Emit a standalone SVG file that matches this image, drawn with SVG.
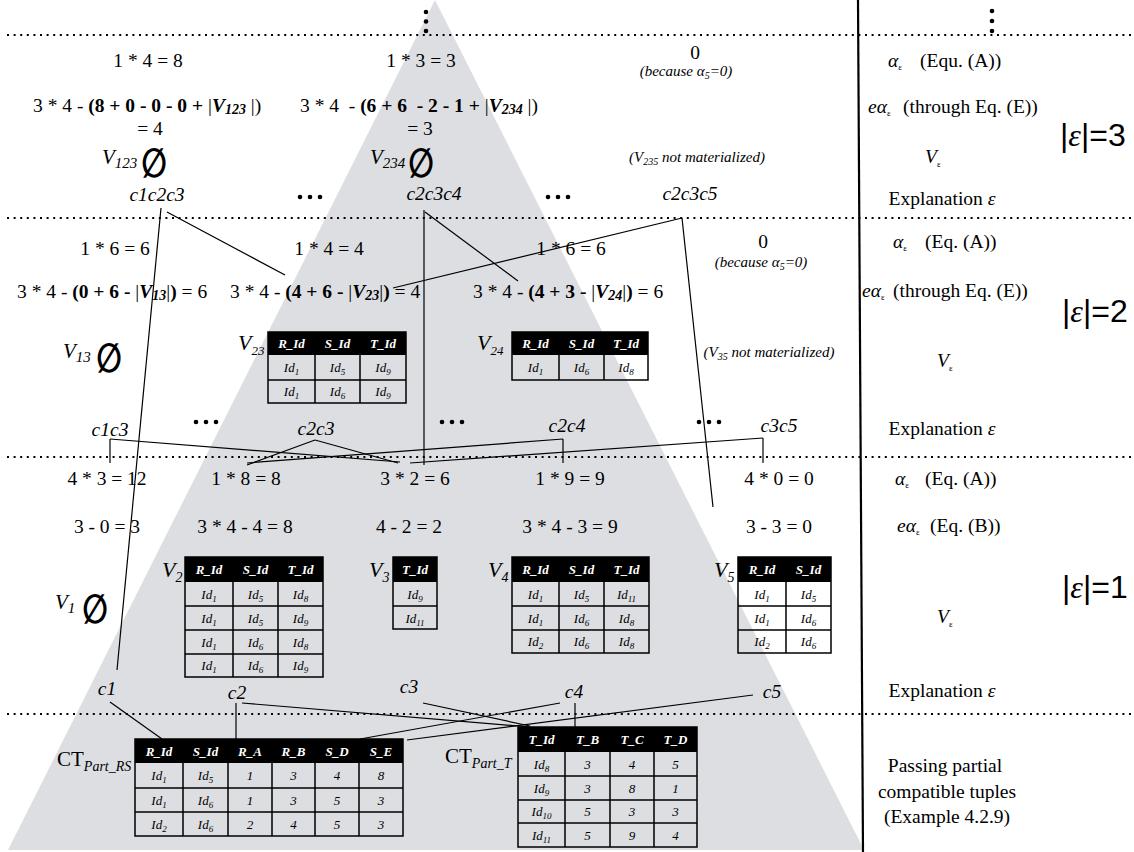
<svg xmlns="http://www.w3.org/2000/svg" width="1134" height="852" viewBox="0 0 1134 852">
<style>
text{font-family:"Liberation Serif","Times New Roman",serif;fill:#000}
.t{font-size:19.5px;white-space:pre}
.c{text-anchor:middle}
.i{font-style:italic}
.b{font-weight:bold}
.bi{font-weight:bold;font-style:italic}
.note{font-size:15px;font-style:italic}
.vl{font-size:21px;font-style:italic}
.vt{font-size:22px;font-style:italic}
.es{font-family:"DejaVu Sans",sans-serif;font-size:30px;font-weight:bold;text-anchor:middle}
.big{font-family:"Liberation Sans",Arial,sans-serif;font-size:32px}
.th{font-size:13px;font-weight:bold;font-style:italic;fill:#fff;text-anchor:middle}
.td{font-size:13px;font-style:italic;text-anchor:middle}
.s{font-size:9px}
.hd{fill:#000}
.gr{fill:none;stroke:#000;stroke-width:1.5}
.dot{stroke:#000;stroke-width:2.2;stroke-dasharray:2 4.6}
.ln{stroke:#000;stroke-width:1.2;fill:none}
.el{fill:#000}
</style>

<g id="background">
<polygon points="435,0 8,850 864,850" fill="#dddee2"/>
</g>

<g id="separators">
<line class="dot" x1="7" y1="35" x2="1134" y2="35"/>
<line class="dot" x1="7" y1="218" x2="1134" y2="218"/>
<line class="dot" x1="7" y1="457" x2="1134" y2="457"/>
<line class="dot" x1="7" y1="714" x2="1134" y2="714"/>
<line x1="858" y1="0" x2="863" y2="852" stroke="#000" stroke-width="2.2"/>
<circle class="el" cx="426" cy="12" r="2.3"/><circle class="el" cx="426" cy="21.5" r="2.3"/><circle class="el" cx="426" cy="31" r="2.3"/>
<circle class="el" cx="992" cy="11" r="2.3"/><circle class="el" cx="992" cy="21" r="2.3"/><circle class="el" cx="992" cy="31" r="2.3"/>
</g>

<g id="connectors">
<line class="ln" x1="161" y1="208" x2="117" y2="670"/>
<line class="ln" x1="167" y1="212" x2="285" y2="275"/>
<line class="ln" x1="424" y1="210" x2="424" y2="465"/>
<line class="ln" x1="425" y1="212" x2="518" y2="281"/>
<line class="ln" x1="682" y1="218" x2="393" y2="288"/>
<line class="ln" x1="682" y1="218" x2="713" y2="507"/>
<line class="ln" x1="110" y1="439" x2="110" y2="463"/>
<line class="ln" x1="110" y1="439" x2="400" y2="462"/>
<line class="ln" x1="315" y1="440" x2="247" y2="465"/>
<line class="ln" x1="315" y1="440" x2="398" y2="463"/>
<line class="ln" x1="563" y1="439" x2="563" y2="463"/>
<line class="ln" x1="563" y1="439" x2="247" y2="463"/>
<line class="ln" x1="763" y1="438" x2="763" y2="463"/>
<line class="ln" x1="763" y1="438" x2="410" y2="463"/>
<line class="ln" x1="110" y1="702" x2="162" y2="739"/>
<line class="ln" x1="236" y1="703" x2="236" y2="739"/>
<line class="ln" x1="242" y1="703" x2="530" y2="727"/>
<line class="ln" x1="423" y1="703" x2="530" y2="726"/>
<line class="ln" x1="575" y1="703" x2="575" y2="727"/>
<line class="ln" x1="560" y1="703" x2="360" y2="739"/>
<line class="ln" x1="753" y1="695" x2="407" y2="740"/>
</g>

<g id="level3">
<text class="t c" x="148" y="67">1 * 4 = 8</text>
<text class="t c" x="421" y="67">1 * 3 = 3</text>
<text class="t c" x="695" y="59">0</text>
<text class="note c" x="686" y="76">(because α<tspan font-size="10" dy="3">5</tspan><tspan dy="-3">=0)</tspan></text>
<text class="t" x="33" y="112">3 * 4 - <tspan class="b">(8 + 0 - 0 - 0 + </tspan>|<tspan class="bi">V</tspan><tspan class="bi" font-size="14" dy="2">123</tspan><tspan dy="-2"> |)</tspan></text>
<text class="t" x="300" y="112">3 * 4  - <tspan class="b">(6 + 6  - 2 - 1 + </tspan>|<tspan class="bi">V</tspan><tspan class="bi" font-size="14" dy="2">234</tspan><tspan dy="-2"> |)</tspan></text>
<text class="t c" x="150" y="135">= 4</text>
<text class="t c" x="420" y="135">= 3</text>
<text class="vl" x="102" y="164">V<tspan font-size="15" dy="4">123</tspan></text>
<text class="es" transform="translate(154,177) scale(1,1.35)">∅</text>
<text class="vl" x="370" y="164">V<tspan font-size="15" dy="4">234</tspan></text>
<text class="es" transform="translate(421,177) scale(1,1.35)">∅</text>
<text class="note c" x="697" y="162">(V<tspan font-size="10" dy="3">235</tspan><tspan dy="-3"> not materialized)</tspan></text>
<text class="t c i" x="157" y="201">c1c2c3</text>
<text class="t c i" x="434" y="200">c2c3c4</text>
<text class="t c i" x="690" y="200">c2c3c5</text>
<circle class="el" cx="300" cy="197" r="2.3"/><circle class="el" cx="310" cy="197" r="2.3"/><circle class="el" cx="320" cy="197" r="2.3"/>
<circle class="el" cx="548" cy="197" r="2.3"/><circle class="el" cx="558" cy="197" r="2.3"/><circle class="el" cx="568" cy="197" r="2.3"/>
</g>

<g id="legend3">
<text class="t" x="888" y="67"><tspan class="i">α</tspan><tspan font-size="9" dy="3">ε</tspan></text>
<text class="t" x="920" y="67">(Equ. (A))</text>
<text class="t" x="868" y="113"><tspan class="i">eα</tspan><tspan font-size="9" dy="3">ε</tspan></text>
<text class="t" x="903" y="113">(through Eq. (E))</text>
<text class="big" x="1060" y="146">|<tspan font-family="Liberation Serif" font-style="italic">ε</tspan>|=3</text>
<text class="t" x="925" y="163"><tspan class="i">V</tspan><tspan font-size="9" dy="4">ε</tspan></text>
<text class="t c" x="942" y="205">Explanation <tspan class="i">ε</tspan></text>
</g>

<g id="level2">
<text class="t c" x="115" y="255">1 * 6 = 6</text>
<text class="t c" x="329" y="255">1 * 4 = 4</text>
<text class="t c" x="571" y="255">1 * 6 = 6</text>
<text class="t c" x="763" y="248">0</text>
<text class="note c" x="761" y="267">(because α<tspan font-size="10" dy="3">5</tspan><tspan dy="-3">=0)</tspan></text>
<text class="t" x="17" y="298">3 * 4 - <tspan class="b">(0 + 6 - </tspan>|<tspan class="bi">V</tspan><tspan class="bi" font-size="14" dy="2">13</tspan><tspan dy="-2">|</tspan><tspan class="b">)</tspan> = 6</text>
<text class="t" x="230" y="298">3 * 4 - <tspan class="b">(4 + 6 - </tspan>|<tspan class="bi">V</tspan><tspan class="bi" font-size="14" dy="2">23</tspan><tspan dy="-2">|</tspan><tspan class="b">)</tspan> = 4</text>
<text class="t" x="473" y="298">3 * 4 - <tspan class="b">(4 + 3 - </tspan>|<tspan class="bi">V</tspan><tspan class="bi" font-size="14" dy="2">24</tspan><tspan dy="-2">|</tspan><tspan class="b">)</tspan> = 6</text>
<text class="vl" x="63" y="358">V<tspan font-size="15" dy="4">13</tspan></text>
<text class="es" transform="translate(109,372) scale(1,1.35)">∅</text>
<text class="note c" x="769" y="357">(V<tspan font-size="10" dy="3">35</tspan><tspan dy="-3"> not materialized)</tspan></text>
<text class="t c i" x="110" y="436">c1c3</text>
<text class="t c i" x="316" y="435">c2c3</text>
<text class="t c i" x="567" y="432">c2c4</text>
<text class="t c i" x="779" y="432">c3c5</text>
<circle class="el" cx="196" cy="422" r="2.3"/><circle class="el" cx="206" cy="422" r="2.3"/><circle class="el" cx="216" cy="422" r="2.3"/>
<circle class="el" cx="442" cy="422" r="2.3"/><circle class="el" cx="452" cy="422" r="2.3"/><circle class="el" cx="462" cy="422" r="2.3"/>
<circle class="el" cx="699" cy="422" r="2.3"/><circle class="el" cx="709" cy="422" r="2.3"/><circle class="el" cx="719" cy="422" r="2.3"/>
</g>

<g id="v23">
<text class="vt" x="238" y="350">V<tspan font-size="13" dy="5">23</tspan></text>
<rect class="hd" x="268" y="332" width="138" height="23"/>
<rect class="gr" x="268" y="332" width="138" height="71"/>
<path class="gr" d="M268 380H406M315 355V403M360 355V403"/>
<text class="th" x="291.5" y="348">R_Id</text><text class="th" x="337.5" y="348">S_Id</text><text class="th" x="383" y="348">T_Id</text>
<text class="td" x="291.5" y="372">Id<tspan class="s" dy="3">1</tspan></text><text class="td" x="337.5" y="372">Id<tspan class="s" dy="3">5</tspan></text><text class="td" x="383" y="372">Id<tspan class="s" dy="3">9</tspan></text>
<text class="td" x="291.5" y="396">Id<tspan class="s" dy="3">1</tspan></text><text class="td" x="337.5" y="396">Id<tspan class="s" dy="3">6</tspan></text><text class="td" x="383" y="396">Id<tspan class="s" dy="3">9</tspan></text>
</g>

<g id="v24">
<text class="vt" x="477" y="350">V<tspan font-size="13" dy="5">24</tspan></text>
<rect class="hd" x="512" y="332" width="136" height="23"/>
<rect class="gr" x="512" y="332" width="136" height="48"/>
<path class="gr" d="M559 355V380M604 355V380"/>
<text class="th" x="535.5" y="348">R_Id</text><text class="th" x="581.5" y="348">S_Id</text><text class="th" x="626" y="348">T_Id</text>
<text class="td" x="535.5" y="372">Id<tspan class="s" dy="3">1</tspan></text><text class="td" x="581.5" y="372">Id<tspan class="s" dy="3">6</tspan></text><text class="td" x="626" y="372">Id<tspan class="s" dy="3">8</tspan></text>
</g>

<g id="legend2">
<text class="t" x="893" y="248"><tspan class="i">α</tspan><tspan font-size="9" dy="3">ε</tspan></text>
<text class="t" x="925" y="248">(Eq. (A))</text>
<text class="t" x="862" y="297"><tspan class="i">eα</tspan><tspan font-size="9" dy="3">ε</tspan></text>
<text class="t" x="893" y="297">(through Eq. (E))</text>
<text class="big" x="1062" y="322">|<tspan font-family="Liberation Serif" font-style="italic">ε</tspan>|=2</text>
<text class="t" x="937" y="367"><tspan class="i">V</tspan><tspan font-size="9" dy="4">ε</tspan></text>
<text class="t c" x="942" y="435">Explanation <tspan class="i">ε</tspan></text>
</g>

<g id="level1">
<text class="t c" x="107" y="485">4 * 3 = 12</text>
<text class="t c" x="246" y="485">1 * 8 = 8</text>
<text class="t c" x="415" y="485">3 * 2 = 6</text>
<text class="t c" x="570" y="485">1 * 9 = 9</text>
<text class="t c" x="779" y="485">4 * 0 = 0</text>
<text class="t c" x="107" y="533">3 - 0 = 3</text>
<text class="t c" x="245" y="533">3 * 4 - 4 = 8</text>
<text class="t c" x="409" y="533">4 - 2 = 2</text>
<text class="t c" x="570" y="533">3 * 4 - 3 = 9</text>
<text class="t c" x="779" y="533">3 - 3 = 0</text>
<text class="vl" x="55" y="609">V<tspan font-size="15" dy="4">1</tspan></text>
<text class="es" transform="translate(95,623) scale(1,1.35)">∅</text>
<text class="t c i" x="107" y="695">c1</text>
<text class="t c i" x="237" y="699">c2</text>
<text class="t c i" x="409" y="693">c3</text>
<text class="t c i" x="574" y="698">c4</text>
<text class="t c i" x="772" y="698">c5</text>
</g>

<g id="v2">
<text class="vt" x="162" y="577">V<tspan font-size="14" dy="5">2</tspan></text>
<rect class="hd" x="185" y="557" width="138" height="25"/>
<rect class="gr" x="185" y="557" width="138" height="120"/>
<path class="gr" d="M185 606H323M185 630H323M185 654H323M233 582V677M278 582V677"/>
<text class="th" x="209" y="574">R_Id</text><text class="th" x="255.5" y="574">S_Id</text><text class="th" x="300.5" y="574">T_Id</text>
<text class="td" x="209" y="599">Id<tspan class="s" dy="3">1</tspan></text><text class="td" x="255.5" y="599">Id<tspan class="s" dy="3">5</tspan></text><text class="td" x="300.5" y="599">Id<tspan class="s" dy="3">8</tspan></text>
<text class="td" x="209" y="623">Id<tspan class="s" dy="3">1</tspan></text><text class="td" x="255.5" y="623">Id<tspan class="s" dy="3">5</tspan></text><text class="td" x="300.5" y="623">Id<tspan class="s" dy="3">9</tspan></text>
<text class="td" x="209" y="647">Id<tspan class="s" dy="3">1</tspan></text><text class="td" x="255.5" y="647">Id<tspan class="s" dy="3">6</tspan></text><text class="td" x="300.5" y="647">Id<tspan class="s" dy="3">8</tspan></text>
<text class="td" x="209" y="670">Id<tspan class="s" dy="3">1</tspan></text><text class="td" x="255.5" y="670">Id<tspan class="s" dy="3">6</tspan></text><text class="td" x="300.5" y="670">Id<tspan class="s" dy="3">9</tspan></text>
</g>

<g id="v3">
<text class="vt" x="369" y="577">V<tspan font-size="14" dy="5">3</tspan></text>
<rect class="hd" x="393" y="557" width="44" height="25"/>
<rect class="gr" x="393" y="557" width="44" height="72"/>
<path class="gr" d="M393 606H437"/>
<text class="th" x="415" y="574">T_Id</text>
<text class="td" x="415" y="599">Id<tspan class="s" dy="3">9</tspan></text>
<text class="td" x="415" y="623">Id<tspan class="s" dy="3">11</tspan></text>
</g>

<g id="v4">
<text class="vt" x="488" y="577">V<tspan font-size="14" dy="5">4</tspan></text>
<rect class="hd" x="512" y="557" width="137" height="25"/>
<rect class="gr" x="512" y="557" width="137" height="96"/>
<path class="gr" d="M512 606H649M512 630H649M559 582V653M604 582V653"/>
<text class="th" x="535.5" y="574">R_Id</text><text class="th" x="581.5" y="574">S_Id</text><text class="th" x="626.5" y="574">T_Id</text>
<text class="td" x="535.5" y="599">Id<tspan class="s" dy="3">1</tspan></text><text class="td" x="581.5" y="599">Id<tspan class="s" dy="3">5</tspan></text><text class="td" x="626.5" y="599">Id<tspan class="s" dy="3">11</tspan></text>
<text class="td" x="535.5" y="623">Id<tspan class="s" dy="3">1</tspan></text><text class="td" x="581.5" y="623">Id<tspan class="s" dy="3">6</tspan></text><text class="td" x="626.5" y="623">Id<tspan class="s" dy="3">8</tspan></text>
<text class="td" x="535.5" y="646">Id<tspan class="s" dy="3">2</tspan></text><text class="td" x="581.5" y="646">Id<tspan class="s" dy="3">6</tspan></text><text class="td" x="626.5" y="646">Id<tspan class="s" dy="3">8</tspan></text>
</g>

<g id="v5">
<text class="vt" x="714" y="577">V<tspan font-size="14" dy="5">5</tspan></text>
<rect class="hd" x="738" y="557" width="93" height="25"/>
<rect class="gr" x="738" y="557" width="93" height="96"/>
<path class="gr" d="M738 606H831M738 630H831M786 582V653"/>
<text class="th" x="762" y="574">R_Id</text><text class="th" x="808.5" y="574">S_Id</text>
<text class="td" x="762" y="599">Id<tspan class="s" dy="3">1</tspan></text><text class="td" x="808.5" y="599">Id<tspan class="s" dy="3">5</tspan></text>
<text class="td" x="762" y="623">Id<tspan class="s" dy="3">1</tspan></text><text class="td" x="808.5" y="623">Id<tspan class="s" dy="3">6</tspan></text>
<text class="td" x="762" y="646">Id<tspan class="s" dy="3">2</tspan></text><text class="td" x="808.5" y="646">Id<tspan class="s" dy="3">6</tspan></text>
</g>

<g id="legend1">
<text class="t" x="895" y="485"><tspan class="i">α</tspan><tspan font-size="9" dy="3">ε</tspan></text>
<text class="t" x="925" y="485">(Eq. (A))</text>
<text class="t" x="897" y="532"><tspan class="i">eα</tspan><tspan font-size="9" dy="3">ε</tspan></text>
<text class="t" x="930" y="532">(Eq. (B))</text>
<text class="big" x="1062" y="598">|<tspan font-family="Liberation Serif" font-style="italic">ε</tspan>|=1</text>
<text class="t" x="937" y="623"><tspan class="i">V</tspan><tspan font-size="9" dy="4">ε</tspan></text>
<text class="t c" x="942" y="697">Explanation <tspan class="i">ε</tspan></text>
</g>

<g id="ct-rs">
<text font-size="21" x="57" y="766">CT<tspan font-size="14" font-style="italic" dy="5">Part_RS</tspan></text>
<rect class="hd" x="135" y="739" width="268" height="24"/>
<rect class="gr" x="135" y="739" width="268" height="97"/>
<path class="gr" d="M135 788H403M135 812H403M183 763V836M228 763V836M272 763V836M315 763V836M359 763V836"/>
<text class="th" x="159" y="756">R_Id</text><text class="th" x="205.5" y="756">S_Id</text><text class="th" x="250" y="756">R_A</text><text class="th" x="293.5" y="756">R_B</text><text class="th" x="337" y="756">S_D</text><text class="th" x="381" y="756">S_E</text>
<text class="td" x="159" y="780">Id<tspan class="s" dy="3">1</tspan></text><text class="td" x="205.5" y="780">Id<tspan class="s" dy="3">5</tspan></text><text class="td" x="250" y="780">1</text><text class="td" x="293.5" y="780">3</text><text class="td" x="337" y="780">4</text><text class="td" x="381" y="780">8</text>
<text class="td" x="159" y="805">Id<tspan class="s" dy="3">1</tspan></text><text class="td" x="205.5" y="805">Id<tspan class="s" dy="3">6</tspan></text><text class="td" x="250" y="805">1</text><text class="td" x="293.5" y="805">3</text><text class="td" x="337" y="805">5</text><text class="td" x="381" y="805">3</text>
<text class="td" x="159" y="829">Id<tspan class="s" dy="3">2</tspan></text><text class="td" x="205.5" y="829">Id<tspan class="s" dy="3">6</tspan></text><text class="td" x="250" y="829">2</text><text class="td" x="293.5" y="829">4</text><text class="td" x="337" y="829">5</text><text class="td" x="381" y="829">3</text>
</g>

<g id="ct-t">
<text font-size="21" x="445" y="763">CT<tspan font-size="14" font-style="italic" dy="5">Part_T</tspan></text>
<rect class="hd" x="518" y="727" width="179" height="25"/>
<rect class="gr" x="518" y="727" width="179" height="120"/>
<path class="gr" d="M518 776H697M518 800H697M518 823H697M565 752V847M610 752V847M654 752V847"/>
<text class="th" x="541.5" y="744">T_Id</text><text class="th" x="587.5" y="744">T_B</text><text class="th" x="632" y="744">T_C</text><text class="th" x="675.5" y="744">T_D</text>
<text class="td" x="541.5" y="769">Id<tspan class="s" dy="3">8</tspan></text><text class="td" x="587.5" y="769">3</text><text class="td" x="632" y="769">4</text><text class="td" x="675.5" y="769">5</text>
<text class="td" x="541.5" y="793">Id<tspan class="s" dy="3">9</tspan></text><text class="td" x="587.5" y="793">3</text><text class="td" x="632" y="793">8</text><text class="td" x="675.5" y="793">1</text>
<text class="td" x="541.5" y="816">Id<tspan class="s" dy="3">10</tspan></text><text class="td" x="587.5" y="816">5</text><text class="td" x="632" y="816">3</text><text class="td" x="675.5" y="816">3</text>
<text class="td" x="541.5" y="840">Id<tspan class="s" dy="3">11</tspan></text><text class="td" x="587.5" y="840">5</text><text class="td" x="632" y="840">9</text><text class="td" x="675.5" y="840">4</text>
</g>

<g id="legend0">
<text class="t c" x="945" y="772">Passing partial</text>
<text class="t c" x="947" y="798">compatible tuples</text>
<text class="t c" x="947" y="823">(Example 4.2.9)</text>
</g>
</svg>
